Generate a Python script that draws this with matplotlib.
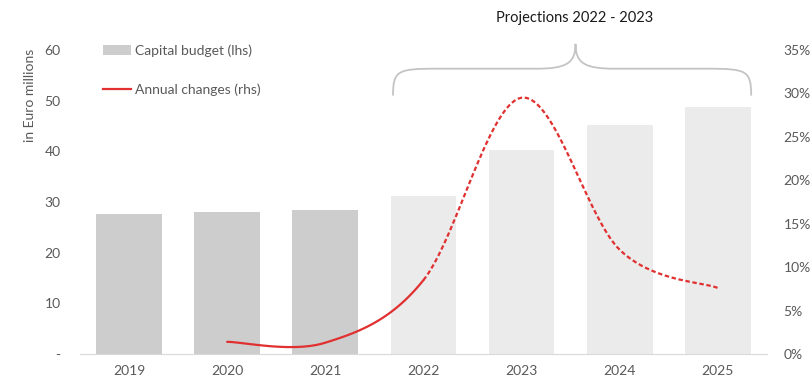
import numpy as np
from matplotlib import pyplot as plt
from matplotlib.patches import Patch, PathPatch
from matplotlib.lines import Line2D
from matplotlib.path import Path

plt.rcParams['font.family'] = ['Lato', 'DejaVu Sans']

# Data.
years = ['2019', '2020', '2021', '2022', '2023', '2024', '2025']
budget = [27.6, 28.0, 28.4, 31.2, 40.2, 45.2, 48.7]
change_years = ['2020', '2021', '2022', '2023', '2024', '2025']
changes = [0.014, 0.013, 0.085, 0.295, 0.12, 0.076]
left_ticks = [0, 10, 20, 30, 40, 50, 60]
left_labels = ['-', '10', '20', '30', '40', '50', '60']
right_ticks = [0, 0.05, 0.10, 0.15, 0.20, 0.25, 0.30, 0.35]


def smooth(xs, ys, n=40):
    # Catmull-Rom curve through the points (ends duplicated), like Excel's smoothed line.
    xs = np.asarray(xs, float)
    ys = np.asarray(ys, float)
    px = np.concatenate([[xs[0]], xs, [xs[-1]]])
    py = np.concatenate([[ys[0]], ys, [ys[-1]]])
    out_x, out_y = [], []
    for i in range(1, len(px) - 2):
        t = np.linspace(0, 1, n)
        for arr, src in ((out_x, px), (out_y, py)):
            p0, p1, p2, p3 = src[i - 1], src[i], src[i + 1], src[i + 2]
            arr.append(0.5 * (2 * p1 + (-p0 + p2) * t
                              + (2 * p0 - 5 * p1 + 4 * p2 - p3) * t ** 2
                              + (-p0 + 3 * p1 - 3 * p2 + p3) * t ** 3))
    return np.concatenate(out_x), np.concatenate(out_y)


fig = plt.figure(figsize=(8.11, 3.81), dpi=100)
ax = fig.add_axes([0.0986, 0.0709, 0.847, 0.798])

x = np.arange(len(years))
colors = ['#cdcdcd'] * 3 + ['#ebebeb'] * 4
ax.bar(x, budget, width=0.67, color=colors, zorder=1)
ax.set_xlim(-0.5, len(years) - 0.5)
ax.set_ylim(0, 60)
ax.set_xticks(x)
ax.set_xticklabels(years)
ax.set_yticks(left_ticks)
ax.set_yticklabels(left_labels)
ax.tick_params(axis='both', length=0, labelsize=10, labelcolor='#595959')
ax.tick_params(axis='y', pad=14)
ax.tick_params(axis='x', pad=8)
for s in ['top', 'right', 'left']:
    ax.spines[s].set_visible(False)
ax.spines['bottom'].set_color('#d9d9d9')

ax2 = ax.twinx()
ax2.set_ylim(0, 0.35)
ax2.set_yticks(right_ticks)
ax2.set_yticklabels(['%d%%' % round(v * 100) for v in right_ticks])
ax2.tick_params(axis='y', length=0, labelsize=10, labelcolor='#595959', pad=12)
for s in ['top', 'right', 'left', 'bottom']:
    ax2.spines[s].set_visible(False)

cx = [years.index(y) for y in change_years]
sx, sy = smooth(cx, changes)
split = years.index('2022')
solid = sx <= split
ax2.plot(sx[solid], sy[solid], color='#e03030', lw=1.6, solid_capstyle='round')
ax2.plot(sx[sx >= split], sy[sx >= split], color='#e03030', lw=1.6,
         linestyle=(0, (2, 1.2)))

# Brace over projection years.
bl, bc, br = 2.69, 4.55, 6.34
y0, y1, y2 = 51.0, 56.3, 61.2
C4 = Path.CURVE4
verts = [(bl, y0),
         (bl, y1 - 0.3), (bl + 0.05, y1), (bl + 0.45, y1),
         (bc - 0.4, y1),
         (bc - 0.1, y1), (bc, y1 + 1.0), (bc, y2),
         (bc, y1 + 1.0), (bc + 0.1, y1), (bc + 0.4, y1),
         (br - 0.45, y1),
         (br - 0.05, y1), (br, y1 - 0.3), (br, y0)]
codes = [Path.MOVETO, C4, C4, C4, Path.LINETO, C4, C4, C4,
         C4, C4, C4, Path.LINETO, C4, C4, C4]
ax.add_patch(PathPatch(Path(verts, codes), fill=False, edgecolor='#c4c4c4',
                       lw=1.3, clip_on=False))
fig.text(575 / 811, 1 - 18 / 381, 'Projections 2022 - 2023', ha='center',
         va='center', fontsize=10.5, color='#1a1a1a')

fig.text(30 / 811, 1 - 95 / 381, 'in Euro millions', rotation=90,
         ha='center', va='center', fontsize=10, color='#595959')

handles = [Patch(facecolor='#cdcdcd', edgecolor='none'),
           Line2D([0], [0], color='#e03030', lw=1.6)]
ax.legend(handles, ['Capital budget (lhs)', 'Annual changes (rhs)'],
          loc='upper left', bbox_to_anchor=(0.015, 1.06), frameon=False,
          fontsize=10, labelcolor='#595959', handlelength=2.0,
          handletextpad=0.3, labelspacing=1.9)

plt.savefig('out.png')
